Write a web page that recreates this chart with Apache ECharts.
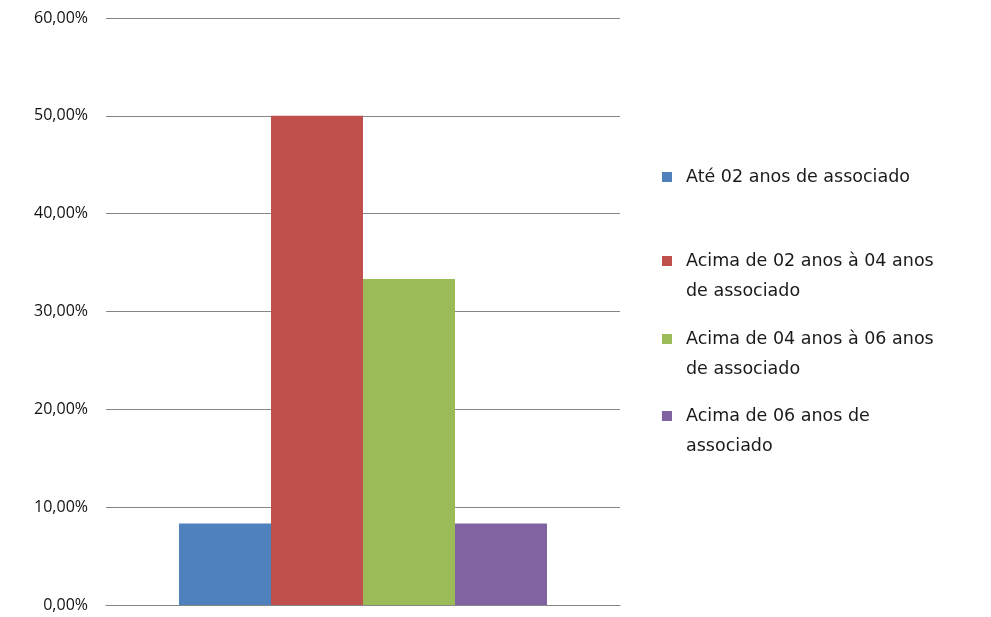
<!DOCTYPE html>
<html>
<head>
<meta charset="utf-8">
<script src="https://cdn.jsdelivr.net/npm/echarts@6/dist/echarts.min.js"></script>
<style>
  html, body { margin: 0; padding: 0; background: #ffffff; }
  #chart { width: 991px; height: 617px; }
</style>
</head>
<body>
<div id="chart"></div>
<script>
// Tempo de associado: share of respondents per group
const categories = [''];
const seriesNames = [
  'Até 02 anos de associado',
  'Acima de 02 anos à 04 anos de associado',
  'Acima de 04 anos à 06 anos de associado',
  'Acima de 06 anos de associado'
];
const seriesValues = [8.33, 50.0, 33.33, 8.33];
const seriesColors = ['#4f81bd', '#c0504d', '#9bbb59', '#8064a2'];
// legend text, wrapped the way it is laid out beside the plot
const legendLines = [
  ['Até 02 anos de associado'],
  ['Acima de 02 anos à 04 anos', 'de associado'],
  ['Acima de 04 anos à 06 anos', 'de associado'],
  ['Acima de 06 anos de', 'associado']
];
// vertical centre of each legend swatch
const legendCenters = [177, 261, 339, 416];

const TICK_FONT = 'Open Sans';
const LEGEND_FONT = 'DejaVu Sans';
const LINE_H = 30;
const LEGEND_PAD = 5;

const chart = echarts.init(document.getElementById('chart'), null, { renderer: 'canvas' });

const series = seriesNames.map((name, i) => ({
  name: name,
  type: 'bar',
  data: [seriesValues[i]],
  barWidth: 92,
  barGap: '0%',
  itemStyle: { color: seriesColors[i] },
  emphasis: { disabled: true }
}));

// One legend block per series. Wrapped entries get a blank leading line so
// that the swatch lines up with the first line of text.
const legends = seriesNames.map((name, i) => {
  const lines = legendLines[i];
  const text = lines.length > 1 ? ' \n' + lines.join('\n') : lines[0];
  const nLines = lines.length > 1 ? lines.length + 1 : 1;
  return {
    show: true,
    orient: 'vertical',
    left: 662 - LEGEND_PAD,
    top: legendCenters[i] - LEGEND_PAD - (nLines * LINE_H) / 2,
    padding: LEGEND_PAD,
    itemWidth: 10,
    itemHeight: 10,
    selectedMode: false,
    icon: 'rect',
    data: [name],
    formatter: () => text,
    textStyle: {
      fontFamily: LEGEND_FONT,
      fontSize: 17.5,
      color: '#1a1a1a',
      lineHeight: LINE_H,
      padding: [0, 0, 0, 9]
    }
  };
});

chart.setOption({
  animation: false,
  backgroundColor: '#ffffff',
  grid: { left: 106, right: 371, top: 18, bottom: 12, containLabel: false },
  legend: legends,
  xAxis: {
    type: 'category',
    data: categories,
    axisLine: { show: true, lineStyle: { color: '#868686', width: 1.2 } },
    axisTick: { show: false },
    axisLabel: { show: false }
  },
  yAxis: {
    type: 'value',
    min: 0,
    max: 60,
    interval: 10,
    axisLine: { show: false },
    axisTick: { show: false },
    splitLine: { show: true, lineStyle: { color: '#868686', width: 1.2 } },
    axisLabel: {
      margin: 18,
      fontFamily: TICK_FONT,
      fontSize: 16,
      color: '#111111',
      formatter: v => v.toFixed(2).replace('.', ',') + '%'
    }
  },
  series: series
});
</script>
</body>
</html>
